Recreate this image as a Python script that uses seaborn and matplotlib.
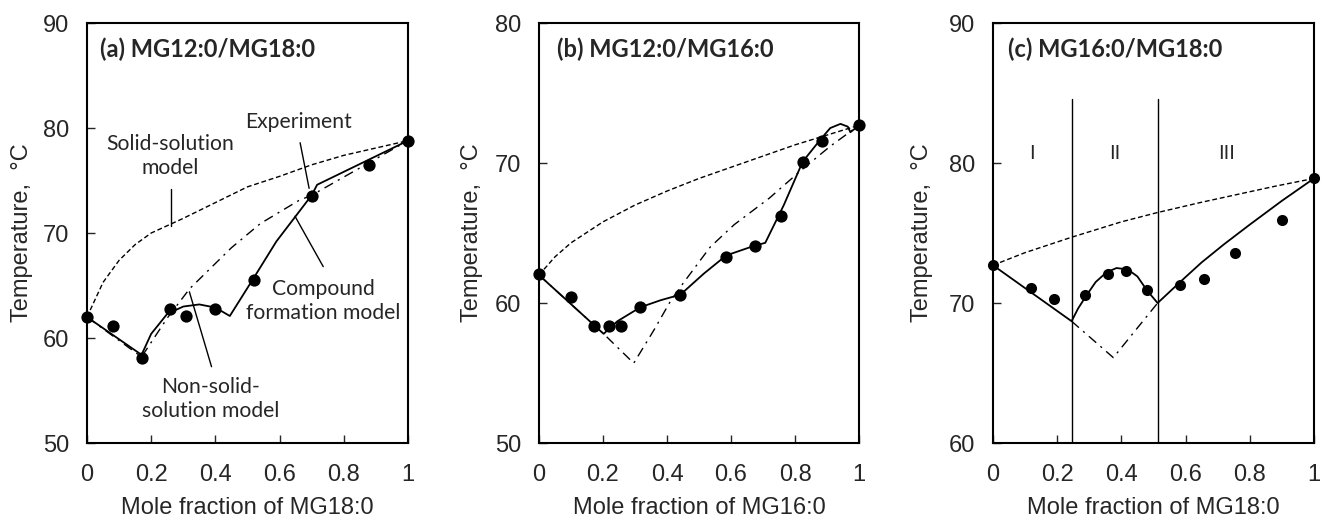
import numpy as np
import pandas as pd
import matplotlib
matplotlib.use("Agg")
import matplotlib.pyplot as plt
import seaborn as sns

# ---- (a) MG12:0/MG18:0 ----
a_exp_x = [0.0, 0.08, 0.171, 0.26, 0.31, 0.40, 0.52, 0.70, 0.878, 1.0]
a_exp_t = [62.0, 61.1, 58.1, 62.8, 62.1, 62.8, 65.5, 73.55, 76.5, 78.8]
a_ss_x = [0.0, 0.05, 0.1, 0.15, 0.2, 0.3, 0.4, 0.5, 0.6, 0.7, 0.8, 0.9, 1.0]
a_ss_t = [62.0, 65.3, 67.4, 68.9, 70.0, 71.4, 72.9, 74.4, 75.4, 76.5, 77.4, 78.1, 78.8]
a_nss_x = [0.0, 0.17, 0.25, 0.32, 0.39, 0.45, 0.54, 0.66, 0.70, 1.0]
a_nss_t = [62.0, 58.2, 61.9, 64.7, 66.8, 68.6, 70.9, 73.1, 73.6, 78.8]
a_cf_x = [0.0, 0.17, 0.20, 0.25, 0.30, 0.35, 0.40, 0.445, 0.515, 0.59, 0.70, 0.717, 1.0]
a_cf_t = [62.0, 58.4, 60.4, 62.3, 63.0, 63.2, 62.9, 62.1, 65.5, 69.2, 73.6, 74.6, 78.8]

# ---- (b) MG12:0/MG16:0 ----
b_exp_x = [0.0, 0.10, 0.172, 0.22, 0.256, 0.317, 0.44, 0.585, 0.674, 0.757, 0.824, 0.883, 1.0]
b_exp_t = [62.05, 60.46, 58.36, 58.36, 58.36, 59.7, 60.6, 63.3, 64.1, 66.2, 70.1, 71.6, 72.7]
b_ss_x = [0.0, 0.05, 0.1, 0.2, 0.3, 0.4, 0.5, 0.6, 0.7, 0.8, 0.9, 1.0]
b_ss_t = [62.0, 63.3, 64.3, 65.8, 67.0, 68.0, 68.9, 69.7, 70.5, 71.3, 72.0, 72.7]
b_nss_x = [0.0, 0.202, 0.296, 0.36, 0.41, 0.45, 0.535, 0.61, 0.72, 0.82, 0.91, 1.0]
b_nss_t = [62.0, 57.8, 55.7, 58.1, 60.1, 61.4, 64.0, 65.6, 67.5, 69.5, 71.2, 72.7]
b_cf_x = [0.0, 0.202, 0.245, 0.317, 0.38, 0.442, 0.515, 0.585, 0.674, 0.707,
          0.765, 0.824, 0.88, 0.91, 0.942, 0.965, 0.973, 1.0]
b_cf_t = [62.0, 57.8, 58.7, 59.7, 60.2, 60.6, 62.1, 63.4, 64.1, 64.3,
          67.0, 70.1, 71.7, 72.5, 72.8, 72.6, 72.2, 72.7]

# ---- (c) MG16:0/MG18:0 ----
c_exp_x = [0.0, 0.117, 0.189, 0.288, 0.357, 0.416, 0.48, 0.583, 0.657, 0.755, 0.90, 1.0]
c_exp_t = [72.7, 71.1, 70.3, 70.6, 72.1, 72.3, 70.9, 71.3, 71.7, 73.6, 75.9, 78.9]
c_ss_x = [0.0, 0.1, 0.245, 0.4, 0.51, 0.65, 0.77, 0.88, 1.0]
c_ss_t = [72.7, 73.6, 74.7, 75.8, 76.45, 77.2, 77.8, 78.35, 78.9]
c_nss_x = [0.245, 0.375, 0.513]
c_nss_t = [68.7, 66.1, 70.0]
c_cf_x = [0.0, 0.245, 0.265, 0.29, 0.32, 0.354, 0.385, 0.42, 0.45, 0.48, 0.513,
          0.583, 0.65, 0.72, 0.80, 0.90, 1.0]
c_cf_t = [72.7, 68.7, 69.6, 70.5, 71.5, 72.2, 72.5, 72.4, 71.9, 70.9, 70.0,
          71.5, 72.9, 74.2, 75.6, 77.3, 78.9]
c_regions = [0.245, 0.513]
c_region_top = 84.6
c_region_labels = ["I", "II", "III"]
c_region_label_x = [0.12, 0.38, 0.728]

sns.set_style("ticks")
plt.rcParams["font.family"] = ["Liberation Sans", "DejaVu Sans"]
plt.rcParams["axes.linewidth"] = 1.5

fig = plt.figure(figsize=(13.22, 5.21), dpi=100)
ax_a = fig.add_axes([0.0658, 0.1497, 0.2428, 0.806])
ax_b = fig.add_axes([0.4077, 0.1497, 0.2421, 0.806])
ax_c = fig.add_axes([0.7511, 0.1497, 0.2428, 0.806])

DASHED = (0, (3.5, 2))
DASHDOT = (0, (7, 4, 1.5, 4))
LABEL_FONT = ["Lato", "DejaVu Sans"]
TITLE_SIZE = 17
NOTE_SIZE = 15.2


def draw_panel(ax, ss_x, ss_t, nss_x, nss_t, cf_x, cf_t, exp_x, exp_t, msize):
    sns.lineplot(x=ss_x, y=ss_t, ax=ax, color="black", lw=1.0, linestyle=DASHED, sort=False)
    sns.lineplot(x=nss_x, y=nss_t, ax=ax, color="black", lw=1.0, linestyle=DASHDOT, sort=False)
    sns.lineplot(x=cf_x, y=cf_t, ax=ax, color="black", lw=1.3, sort=False)
    sns.scatterplot(x=exp_x, y=exp_t, ax=ax, color="black", s=msize, edgecolor="black",
                    linewidth=0, zorder=5, clip_on=False)


def style_axes(ax, ylim, xlabel, ylab_x):
    ax.set_xlim(0, 1)
    ax.set_ylim(*ylim)
    ax.set_xticks([0, 0.2, 0.4, 0.6, 0.8, 1.0])
    ax.set_xticklabels(["0", "0.2", "0.4", "0.6", "0.8", "1"])
    yt = list(range(ylim[0], ylim[1] + 1, 10))
    ax.set_yticks(yt)
    ax.set_yticklabels([str(v) for v in yt])
    ax.tick_params(direction="in", length=5.5, width=1.0, labelsize=17, pad=13)
    ax.tick_params(axis="x", pad=15)
    for sp in ax.spines.values():
        sp.set_visible(True)
        sp.set_color("black")
        sp.set_linewidth(1.5)
    ax.set_xlabel(xlabel, fontsize=17)
    ax.set_ylabel("Temperature,  °C", fontsize=17)
    ax.xaxis.set_label_coords(0.5, -0.128)
    ax.yaxis.set_label_coords(ylab_x, 0.5)


# panel a
draw_panel(ax_a, a_ss_x, a_ss_t, a_nss_x, a_nss_t, a_cf_x, a_cf_t, a_exp_x, a_exp_t, 78)
style_axes(ax_a, (50, 90), "Mole fraction of MG18:0", -0.168)
ax_a.text(0.04, 0.938, "(a) MG12:0/MG18:0", transform=ax_a.transAxes, fontsize=TITLE_SIZE,
          fontweight="bold", family=LABEL_FONT, ha="left", va="center")
ax_a.text(0.258, 77.3, "Solid-solution\nmodel", fontsize=NOTE_SIZE, family=LABEL_FONT,
          ha="center", va="center", linespacing=1.25)
ax_a.text(0.66, 80.6, "Experiment", fontsize=NOTE_SIZE, family=LABEL_FONT, ha="center", va="center")
ax_a.text(0.736, 63.5, "Compound\nformation model", fontsize=NOTE_SIZE, family=LABEL_FONT,
          ha="center", va="center", linespacing=1.25)
ax_a.text(0.385, 54.2, "Non-solid-\nsolution model", fontsize=NOTE_SIZE, family=LABEL_FONT,
          ha="center", va="center", linespacing=1.25)
# leader lines
ax_a.plot([0.262, 0.262], [74.2, 70.67], color="black", lw=1.0)
ax_a.plot([0.664, 0.692], [78.6, 74.26], color="black", lw=1.0)
ax_a.plot([0.648, 0.736], [71.6, 66.8], color="black", lw=1.0)
ax_a.plot([0.319, 0.388], [64.4, 57.27], color="black", lw=1.0)

# panel b
draw_panel(ax_b, b_ss_x, b_ss_t, b_nss_x, b_nss_t, b_cf_x, b_cf_t, b_exp_x, b_exp_t, 78)
style_axes(ax_b, (50, 80), "Mole fraction of MG16:0", -0.175)
ax_b.text(0.057, 0.938, "(b) MG12:0/MG16:0", transform=ax_b.transAxes, fontsize=TITLE_SIZE,
          fontweight="bold", family=LABEL_FONT, ha="left", va="center")

# panel c
draw_panel(ax_c, c_ss_x, c_ss_t, c_nss_x, c_nss_t, c_cf_x, c_cf_t, c_exp_x, c_exp_t, 64)
style_axes(ax_c, (60, 90), "Mole fraction of MG18:0", -0.187)
for xr in c_regions:
    ax_c.plot([xr, xr], [60, c_region_top], color="black", lw=1.0)
for lab, lx in zip(c_region_labels, c_region_label_x):
    ax_c.text(lx, 80.7, lab, fontsize=14.5, ha="center", va="center")
ax_c.text(0.048, 0.938, "(c) MG16:0/MG18:0", transform=ax_c.transAxes, fontsize=TITLE_SIZE,
          fontweight="bold", family=LABEL_FONT, ha="left", va="center")

fig.savefig("out.png", dpi=100)
